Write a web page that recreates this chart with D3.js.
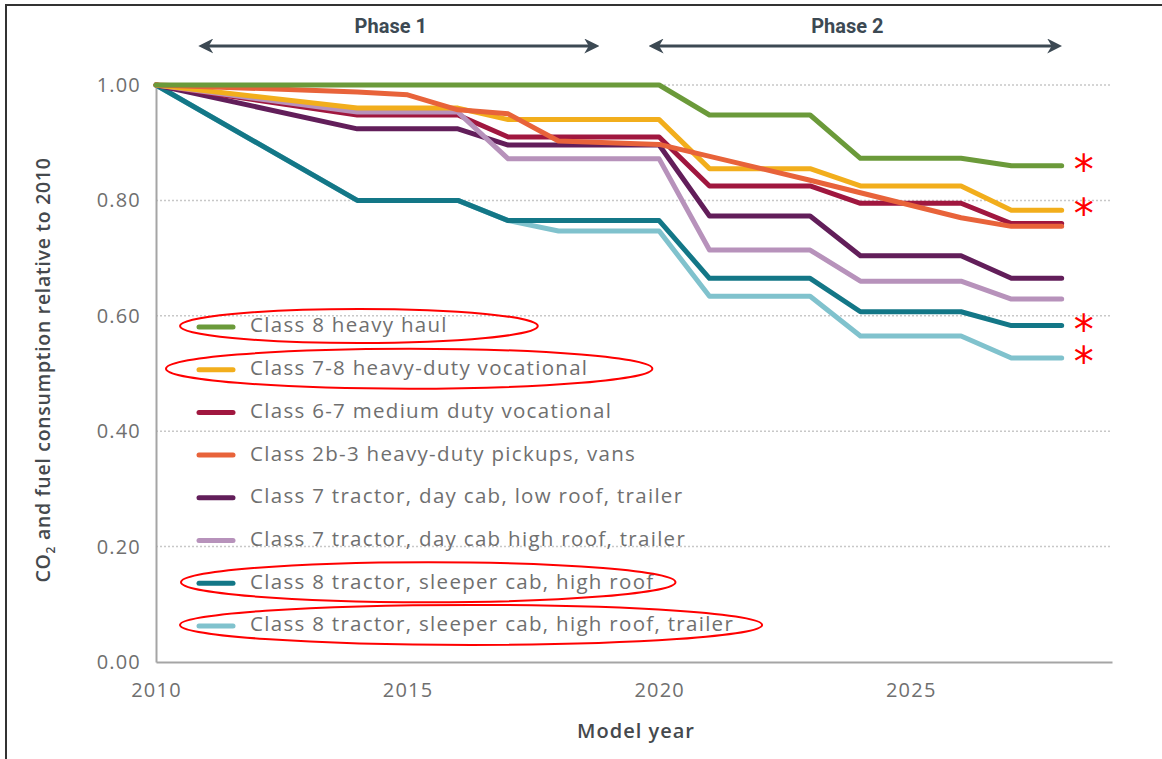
<!DOCTYPE html>
<html>
<head>
<meta charset="utf-8">
<script src="https://cdn.jsdelivr.net/npm/d3@7"></script>
<style>
  body { margin: 0; background: #fff; }
  text { font-family: "Open Sans", "Lato", sans-serif; }
</style>
</head>
<body>
<div id="chart"></div>
<script>
// ---- data ----
const xTicks = [2010, 2015, 2020, 2025];
const yTicks = [0, 0.2, 0.4, 0.6, 0.8, 1.0];

const seriesNames = [
  "Class 8 heavy haul",
  "Class 7-8 heavy-duty vocational",
  "Class 6-7 medium duty vocational",
  "Class 2b-3 heavy-duty pickups, vans",
  "Class 7 tractor, day cab, low roof, trailer",
  "Class 7 tractor, day cab high roof, trailer",
  "Class 8 tractor, sleeper cab, high roof",
  "Class 8 tractor, sleeper cab, high roof, trailer"
];
const seriesColors = ["#6b9a3a", "#f2ae1c", "#a0173f", "#e8633a", "#621e5a", "#b792bb", "#137787", "#80c2cd"];

const heavyHaul = [[2010,1.00],[2020,1.00],[2021,0.948],[2023,0.948],[2024,0.873],[2026,0.873],[2027,0.86],[2028,0.86]];
const vocational78 = [[2010,1.00],[2014,0.96],[2016,0.96],[2017,0.94],[2020,0.94],[2021,0.855],[2023,0.855],[2024,0.825],[2026,0.825],[2027,0.783],[2028,0.783]];
const vocational67 = [[2010,1.00],[2014,0.948],[2016,0.948],[2017,0.91],[2020,0.91],[2021,0.825],[2023,0.825],[2024,0.795],[2026,0.795],[2027,0.76],[2028,0.76]];
const pickups = [[2010,1.00],[2014,0.988],[2015,0.983],[2016,0.957],[2017,0.95],[2018,0.903],[2020,0.897],[2023,0.835],[2026,0.77],[2027,0.755],[2028,0.755]];
const dayCabLow = [[2010,1.00],[2014,0.924],[2016,0.924],[2017,0.896],[2020,0.896],[2021,0.773],[2023,0.773],[2024,0.704],[2026,0.704],[2027,0.665],[2028,0.665]];
const dayCabHigh = [[2010,1.00],[2014,0.953],[2016,0.953],[2017,0.872],[2020,0.872],[2021,0.714],[2023,0.714],[2024,0.66],[2026,0.66],[2027,0.629],[2028,0.629]];
const sleeperHigh = [[2010,1.00],[2014,0.80],[2016,0.80],[2017,0.765],[2020,0.765],[2021,0.665],[2023,0.665],[2024,0.607],[2026,0.607],[2027,0.583],[2028,0.583]];
const sleeperTrailer = [[2010,1.00],[2014,0.80],[2016,0.80],[2017,0.765],[2018,0.747],[2020,0.747],[2021,0.634],[2023,0.634],[2024,0.565],[2026,0.565],[2027,0.527],[2028,0.527]];

const seriesValues = [heavyHaul, vocational78, vocational67, pickups, dayCabLow, dayCabHigh, sleeperHigh, sleeperTrailer];

const phases = ["Phase 1", "Phase 2"];
const phaseStart = [2010.85, 2019.8];
const phaseEnd = [2018.8, 2028];

// series that are circled in the legend and starred at the line end
const circled = [0, 1, 6, 7];
const starred = [0, 1, 6, 7];

// ---- layout ----
let width = 1162,
    height = 759,
    margin = ({ top: 85, right: 50, bottom: 97, left: 156 });

const svg = d3.select("#chart")
  .append("svg")
  .attr("width", width)
  .attr("height", height);

// frame lines (top + left of the screenshot)
svg.append("line").attr("x1", 5).attr("x2", width).attr("y1", 5).attr("y2", 5)
  .attr("stroke", "#333").attr("stroke-width", 2);
svg.append("line").attr("x1", 6).attr("x2", 6).attr("y1", 5).attr("y2", height)
  .attr("stroke", "#333").attr("stroke-width", 2);

let x = d3.scaleLinear()
  .domain([2010, 2029])
  .range([margin.left, width - margin.right]);

let y = d3.scaleLinear()
  .domain([0, 1])
  .range([height - margin.bottom, margin.top]);

// dotted gridlines
svg.append("g")
  .selectAll("line")
  .data(yTicks.filter(d => d > 0))
  .join("line")
  .attr("x1", x(2010))
  .attr("x2", x(2029))
  .attr("y1", d => y(d))
  .attr("y2", d => y(d))
  .attr("stroke", "#c8c8c8")
  .attr("stroke-width", 1.5)
  .attr("stroke-dasharray", "2,2");

// axes
let xAxis = svg.append("g")
  .attr("transform", `translate(0,${height - margin.bottom})`)
  .call(d3.axisBottom(x).tickValues(xTicks).tickFormat(d3.format("d")).tickSize(0).tickPadding(21));

let yAxis = svg.append("g")
  .attr("transform", `translate(${margin.left},0)`)
  .call(d3.axisLeft(y).tickValues(yTicks).tickFormat(d3.format(".2f")).tickSize(0).tickPadding(15));

for (let a of [xAxis, yAxis]) {
  a.select(".domain").attr("stroke", "#a5a5a5").attr("stroke-width", 2);
  a.selectAll("text")
    .attr("font-size", 20)
    .attr("letter-spacing", 1.2)
    .attr("fill", "#6f6f6f")
    .style("font-family", "'Open Sans', sans-serif");
}

svg.append("text")
  .text("Model year")
  .attr("x", 636)
  .attr("y", 738)
  .attr("text-anchor", "middle")
  .attr("font-size", 20)
  .attr("letter-spacing", 1)
  .attr("font-weight", 600)
  .attr("fill", "#45494d");

let yLabel = svg.append("text")
  .attr("transform", "translate(50,370) rotate(-90)")
  .attr("text-anchor", "middle")
  .attr("font-size", 19.5)
  .attr("letter-spacing", 0.7)
  .attr("font-weight", 600)
  .attr("fill", "#45494d");
yLabel.append("tspan").text("CO");
yLabel.append("tspan").text("2").attr("font-size", 12).attr("dy", 5);
yLabel.append("tspan").text(" and fuel consumption relative to 2010").attr("dy", -5);

// phase arrows
svg.append("defs").selectAll("marker")
  .data(["start", "end"])
  .join("marker")
  .attr("id", d => "arrow-" + d)
  .attr("viewBox", "0 0 10 10")
  .attr("refX", 5)
  .attr("refY", 5)
  .attr("markerWidth", 5)
  .attr("markerHeight", 5)
  .attr("orient", "auto-start-reverse")
  .append("path")
  .attr("d", "M0,0 L10,5 L0,10 L3,5 Z")
  .attr("fill", "#3c4953");

phases.forEach((p, i) => {
  svg.append("line")
    .attr("x1", x(phaseStart[i]) + 7)
    .attr("x2", x(phaseEnd[i]) - 7)
    .attr("y1", 46)
    .attr("y2", 46)
    .attr("stroke", "#3c4953")
    .attr("stroke-width", 3)
    .attr("marker-start", "url(#arrow-start)")
    .attr("marker-end", "url(#arrow-end)");

  svg.append("text")
    .text(p)
    .attr("x", (x(phaseStart[i]) + x(phaseEnd[i])) / 2 - 8)
    .attr("y", 33)
    .attr("text-anchor", "middle")
    .attr("font-size", 20)
    .attr("font-weight", 700)
    .attr("fill", "#3c4953")
    .style("font-family", "'Liberation Sans Narrow', 'Roboto', sans-serif");
});

// lines
let line = d3.line()
  .x(d => x(d[0]))
  .y(d => y(d[1]));

const drawOrder = [7, 6, 4, 2, 5, 1, 3, 0];
for (let i of drawOrder) {
  svg.append("path")
    .datum(seriesValues[i])
    .attr("fill", "none")
    .attr("stroke", seriesColors[i])
    .attr("stroke-width", 5)
    .attr("stroke-linejoin", "round")
    .attr("stroke-linecap", "round")
    .attr("d", line);
}

// stars at the end of selected series
for (let i of starred) {
  let last = seriesValues[i][seriesValues[i].length - 1];
  svg.append("text")
    .text("*")
    .attr("x", x(last[0]) + 22)
    .attr("y", y(last[1]) + 18)
    .attr("text-anchor", "middle")
    .attr("font-size", 40)
    .attr("fill", "#ff0000")
    .style("font-family", "'DejaVu Sans', sans-serif");
}

// legend
let legend = svg.append("g");
const rowY = d => 327 + d * 42.7;

seriesNames.forEach((name, i) => {
  legend.append("line")
    .attr("x1", 199).attr("x2", 233)
    .attr("y1", rowY(i)).attr("y2", rowY(i))
    .attr("stroke", seriesColors[i])
    .attr("stroke-width", 5)
    .attr("stroke-linecap", "round");

  let t = legend.append("text")
    .text(name)
    .attr("x", 250)
    .attr("y", rowY(i))
    .attr("dominant-baseline", "middle")
    .attr("font-size", 20.5)
    .attr("letter-spacing", 1.3)
    .attr("fill", "#6f6f6f");

  if (circled.includes(i)) {
    // hand-drawn-ish red ellipse round the entry
    let end = 250 + t.node().getComputedTextLength();
    let extra = { 0: 90, 1: 64, 6: 21, 7: 28 }[i];
    let left = { 0: 180, 1: 166, 6: 181, 7: 180 }[i];
    let right = end + extra;
    legend.append("ellipse")
      .attr("cx", (left + right) / 2)
      .attr("cy", rowY(i) - 1)
      .attr("rx", (right - left) / 2)
      .attr("ry", i === 0 ? 17 : 20)
      .attr("fill", "none")
      .attr("stroke", "#ff0000")
      .attr("stroke-width", 2);
  }
});
</script>
</body>
</html>
